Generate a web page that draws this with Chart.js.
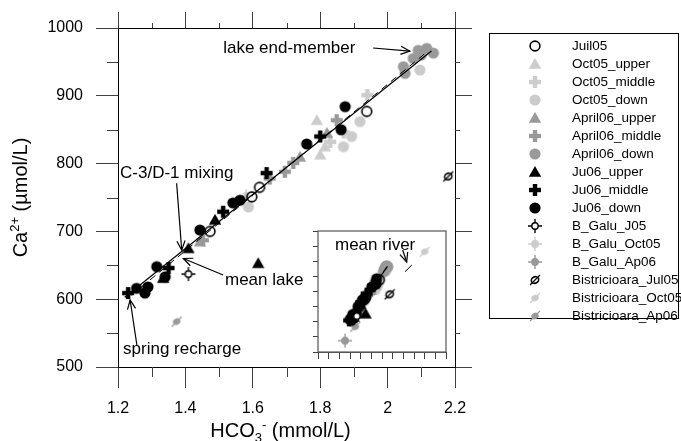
<!DOCTYPE html>
<html>
<head>
<meta charset="utf-8">
<script src="https://cdn.jsdelivr.net/npm/chart.js@4.4.1/dist/chart.umd.min.js"></script>
<style>
  html, body { margin: 0; padding: 0; background: #fff; }
  #wrap { position: relative; width: 681px; height: 441px; }
  #wrap canvas { position: absolute; left: 0; top: 0; }
</style>
</head>
<body>
<div id="wrap">
  <canvas id="mainChart" width="681" height="441"></canvas>
  <canvas id="insetChart" width="681" height="441"></canvas>
</div>
<script>
// sample values: [HCO3 mmol/L, Ca umol/L]
var juil05 = [[1.473, 700], [1.597, 751], [1.62, 765], [1.938, 877]];
var oct05Upper = [[1.79, 864], [1.80, 813], [1.814, 825]];
var oct05Middle = [[1.94, 901], [1.83, 832], [1.87, 846]];
var oct05Down = [[1.893, 840], [1.869, 825], [1.918, 862], [2.096, 938], [1.587, 736]];
var april06Upper = [[1.74, 810], [1.443, 685], [1.82, 845]];
var april06Middle = [[1.72, 801], [1.695, 788], [1.849, 864], [1.452, 687], [1.65, 778]];
var april06Down = [[2.091, 967], [2.116, 970], [2.136, 963], [2.076, 955], [2.047, 943], [2.052, 933], [2.10, 960]];
var ju06Upper = [[1.409, 675], [1.616, 653], [1.488, 717], [1.334, 631]];
var ju06Middle = [[1.23, 609], [1.641, 786], [1.80, 840], [1.512, 729], [1.35, 646]];
var ju06Down = [[1.874, 884], [1.862, 850], [1.76, 829], [1.562, 746], [1.541, 742], [1.443, 702],
                [1.315, 648], [1.255, 616], [1.28, 609], [1.289, 618], [1.34, 633]];
var bGaluJ05 = [[1.409, 637]];
var bGaluOct05 = [[1.58, 752]];
var bGaluAp06 = [[1.133, 475]];
var bistJul05 = [[2.18, 781]];
var bistOct05 = [[3.0, 1063]];
var bistAp06 = [[1.374, 567]];
var mixingLine = [[1.22, 603], [2.13, 966]];
var mixingLine2 = [[1.24, 606], [2.11, 962]];
var meanRiver = [[2.54, 931], [2.70, 975]];

// axes
var xTicksMain = [1.2, 2.2, 0.2];
var yTicksMain = [500, 1000, 100];
var xMinor = [1.3, 1.5, 1.7, 1.9, 2.1];
var yMinor = [550, 650, 750, 850, 950];
var xTicksInset = [0.5, 3.5, 0.25];
var yTicksInset = [400, 1200, 100];

// annotations (data coordinates)
var noteText = ['lake end-member', 'C-3/D-1 mixing', 'mean lake', 'spring recharge'];
var notePos = [[1.512, 970.5], [1.206, 786], [1.5175, 628.3], [1.215, 526.5]];
var arrowFrom = [[1.957, 970.5], [1.374, 771], [1.512, 635.7], [1.256, 532.4]];
var arrowTo = [[2.066, 966], [1.389, 672.6], [1.394, 660], [1.236, 598.8]];
var insetNote = 'mean river';
var insetNotePos = [0.898, 1107];
var insetArrow = [[2.485, 1074], [2.579, 995]];

var FONT = "'Liberation Sans', Arial, sans-serif";
var LIGHT = '#cccccc', GRAY = '#999999', BLACK = '#000000';
Chart.defaults.font.family = FONT;
Chart.defaults.color = '#000';

function makeSymbol(kind, color) {
  var c = document.createElement('canvas');
  c.width = 16; c.height = 16;
  var g = c.getContext('2d');
  g.translate(8, 8);
  g.fillStyle = color; g.strokeStyle = color;
  if (kind === 'circle') {
    g.beginPath(); g.arc(0, 0, 5.6, 0, Math.PI * 2); g.fill();
  } else if (kind === 'open') {
    g.lineWidth = 1.6;
    g.beginPath(); g.arc(0, 0, 4.9, 0, Math.PI * 2); g.stroke();
  } else if (kind === 'triangle') {
    g.beginPath(); g.moveTo(0, -6); g.lineTo(6.2, 4.8); g.lineTo(-6.2, 4.8); g.closePath(); g.fill();
  } else if (kind === 'plus') {
    g.fillRect(-6, -2.2, 12, 4.4); g.fillRect(-2.2, -6, 4.4, 12);
  } else if (kind === 'galu') {
    g.lineWidth = 1.4;
    g.beginPath(); g.moveTo(-7, 0); g.lineTo(7, 0); g.moveTo(0, -7); g.lineTo(0, 7); g.stroke();
    g.fillStyle = color === BLACK ? '#fff' : color;
    g.beginPath(); g.arc(0, 0, 3.2, 0, Math.PI * 2); g.fill(); g.stroke();
  } else if (kind === 'bist') {
    g.lineWidth = 1.6;
    g.beginPath(); g.ellipse(0, 0, 3.8, 3.2, -0.5, 0, Math.PI * 2);
    if (color === BLACK) { g.stroke(); } else { g.fill(); }
    g.lineWidth = 1.3;
    g.beginPath(); g.moveTo(-5, 5); g.lineTo(5, -5); g.stroke();
  }
  return c;
}

var series = [
  { name: 'Juil05', data: juil05, kind: 'open', color: BLACK, order: 1 },
  { name: 'Oct05_upper', data: oct05Upper, kind: 'triangle', color: LIGHT, order: 4 },
  { name: 'Oct05_middle', data: oct05Middle, kind: 'plus', color: LIGHT, order: 4 },
  { name: 'Oct05_down', data: oct05Down, kind: 'circle', color: LIGHT, order: 4 },
  { name: 'April06_upper', data: april06Upper, kind: 'triangle', color: GRAY, order: 3 },
  { name: 'April06_middle', data: april06Middle, kind: 'plus', color: GRAY, order: 3 },
  { name: 'April06_down', data: april06Down, kind: 'circle', color: GRAY, order: 3 },
  { name: 'Ju06_upper', data: ju06Upper, kind: 'triangle', color: BLACK, order: 2 },
  { name: 'Ju06_middle', data: ju06Middle, kind: 'plus', color: BLACK, order: 2 },
  { name: 'Ju06_down', data: ju06Down, kind: 'circle', color: BLACK, order: 2 },
  { name: 'B_Galu_J05', data: bGaluJ05, kind: 'galu', color: BLACK, order: 1 },
  { name: 'B_Galu_Oct05', data: bGaluOct05, kind: 'galu', color: LIGHT, order: 4 },
  { name: 'B_Galu_Ap06', data: bGaluAp06, kind: 'galu', color: GRAY, order: 3 },
  { name: 'Bistricioara_Jul05', data: bistJul05, kind: 'bist', color: BLACK, order: 1 },
  { name: 'Bistricioara_Oct05', data: bistOct05, kind: 'bist', color: LIGHT, order: 4 },
  { name: 'Bistricioara_Ap06', data: bistAp06, kind: 'bist', color: GRAY, order: 3 }
];
series.forEach(function (s) { s.img = makeSymbol(s.kind, s.color); });

function toXY(arr) { return arr.map(function (p) { return { x: p[0], y: p[1] }; }); }

function buildDatasets(withRiver) {
  var ds = [
    { label: 'line', data: toXY(mixingLine), showLine: true, pointRadius: 0, borderColor: '#000', borderWidth: 1.2, order: 0 },
    { label: 'line2', data: toXY(mixingLine2), showLine: true, pointRadius: 0, borderColor: '#000', borderWidth: 1, borderDash: [7, 5], order: 0 }
  ];
  if (withRiver) {
    ds.push({ label: 'river', data: toXY(meanRiver), showLine: true, pointRadius: 0, borderColor: '#000', borderWidth: 1, order: 0 });
  }
  series.forEach(function (s) {
    ds.push({ label: s.name, data: toXY(s.data), pointStyle: s.img, pointRadius: 6,
              backgroundColor: s.color, borderColor: s.color, showLine: false, order: s.order });
  });
  return ds;
}

function seg(ctx, x1, y1, x2, y2) {
  ctx.beginPath(); ctx.moveTo(x1, y1); ctx.lineTo(x2, y2); ctx.stroke();
}

function arrow(ctx, x1, y1, x2, y2) {
  seg(ctx, x1, y1, x2, y2);
  var a = Math.atan2(y2 - y1, x2 - x1), L = 10, w = 0.42;
  ctx.beginPath();
  ctx.moveTo(x2 - L * Math.cos(a - w), y2 - L * Math.sin(a - w));
  ctx.lineTo(x2, y2);
  ctx.lineTo(x2 - L * Math.cos(a + w), y2 - L * Math.sin(a + w));
  ctx.stroke();
}

// minor ticks, annotations, axis titles and legend of the main plot
var mainExtras = {
  id: 'mainExtras',
  beforeDraw: function (chart) {
    var ctx = chart.ctx;
    ctx.save(); ctx.fillStyle = '#fff'; ctx.fillRect(0, 0, chart.width, chart.height); ctx.restore();
  },
  afterDraw: function (chart) {
    var ctx = chart.ctx, a = chart.chartArea;
    var xs = chart.scales.x, ys = chart.scales.y;
    ctx.save();
    ctx.strokeStyle = '#404040'; ctx.lineWidth = 1;
    xMinor.forEach(function (v) {
      var p = Math.round(xs.getPixelForValue(v)) + 0.5;
      seg(ctx, p, a.bottom, p, a.bottom + 10);
      seg(ctx, p, a.top, p, a.top - 5);
    });
    yMinor.forEach(function (v) {
      var p = Math.round(ys.getPixelForValue(v)) + 0.5;
      seg(ctx, a.left, p, a.left - 11, p);
      seg(ctx, a.right, p, a.right + 5, p);
    });

    // annotations
    ctx.fillStyle = '#000'; ctx.strokeStyle = '#000'; ctx.lineWidth = 1.2;
    ctx.font = '17px ' + FONT; ctx.textAlign = 'left'; ctx.textBaseline = 'middle';
    noteText.forEach(function (t, i) {
      ctx.fillText(t, xs.getPixelForValue(notePos[i][0]), ys.getPixelForValue(notePos[i][1]));
      arrow(ctx, xs.getPixelForValue(arrowFrom[i][0]), ys.getPixelForValue(arrowFrom[i][1]),
            xs.getPixelForValue(arrowTo[i][0]), ys.getPixelForValue(arrowTo[i][1]));
    });

    // axis titles with sub/superscripts
    var big = '20px ' + FONT, small = '13px ' + FONT;
    function widthOf(ps) {
      var w = 0;
      ps.forEach(function (p) { ctx.font = p[1]; w += ctx.measureText(p[0]).width; });
      return w;
    }
    function drawParts(ps, cx, cy) {
      var x = cx - widthOf(ps) / 2;
      ctx.textAlign = 'left'; ctx.textBaseline = 'alphabetic';
      ps.forEach(function (p) { ctx.font = p[1]; ctx.fillText(p[0], x, cy + p[2]); x += ctx.measureText(p[0]).width; });
    }
    drawParts([['HCO', big, 0], ['3', small, 5], ['-', small, -8], [' (mmol/L)', big, 0]], (a.left + a.right) / 2 - 6, 437);
    ctx.save();
    ctx.translate(27, (a.top + a.bottom) / 2);
    ctx.rotate(-Math.PI / 2);
    drawParts([['Ca', big, 0], ['2+', small, -8], [' (\u00b5mol/L)', big, 0]], 0, 0);
    ctx.restore();

    // legend
    ctx.strokeStyle = '#000'; ctx.lineWidth = 1;
    ctx.strokeRect(489.5, 33.5, 189, 285);
    ctx.font = '13.5px ' + FONT; ctx.textAlign = 'left'; ctx.textBaseline = 'middle';
    chart.data.datasets.forEach(function (d) {
      var idx = series.findIndex(function (s) { return s.name === d.label; });
      if (idx < 0) return;
      var y = 46 + idx * 18;
      ctx.drawImage(series[idx].img, 535 - 8, y - 8);
      ctx.fillStyle = '#000';
      ctx.fillText(d.label, 572, y);
    });
    ctx.restore();
  }
};

var insetExtras = {
  id: 'insetExtras',
  beforeDatasetsDraw: function (chart) {
    var ctx = chart.ctx, a = chart.chartArea;
    ctx.save(); ctx.fillStyle = '#fff';
    ctx.fillRect(a.left, a.top, a.right - a.left, a.bottom - a.top);
    ctx.restore();
  },
  afterDraw: function (chart) {
    var ctx = chart.ctx, a = chart.chartArea;
    var xs = chart.scales.x, ys = chart.scales.y;
    ctx.save();
    ctx.strokeStyle = '#555'; ctx.lineWidth = 1.2;
    ctx.strokeRect(a.left, a.top, a.right - a.left, a.bottom - a.top);
    ctx.fillStyle = '#000'; ctx.strokeStyle = '#000'; ctx.lineWidth = 1.2;
    ctx.font = '17px ' + FONT; ctx.textAlign = 'left'; ctx.textBaseline = 'middle';
    ctx.fillText(insetNote, xs.getPixelForValue(insetNotePos[0]), ys.getPixelForValue(insetNotePos[1]));
    arrow(ctx, xs.getPixelForValue(insetArrow[0][0]), ys.getPixelForValue(insetArrow[0][1]),
          xs.getPixelForValue(insetArrow[1][0]), ys.getPixelForValue(insetArrow[1][1]));
    ctx.restore();
  }
};

function fmt(v) { return String(Number(v.toFixed(2))); }

new Chart(document.getElementById('mainChart'), {
  type: 'scatter',
  data: { datasets: buildDatasets(false) },
  options: {
    responsive: false, animation: false, events: [],
    layout: { padding: 0 },
    plugins: { legend: { display: false }, tooltip: { enabled: false } },
    scales: {
      x: {
        type: 'linear', position: 'bottom', min: xTicksMain[0], max: xTicksMain[1],
        ticks: { stepSize: xTicksMain[2], padding: 11, font: { size: 16 }, color: '#000', callback: fmt },
        grid: { drawOnChartArea: false, tickLength: 21, color: '#404040' },
        border: { color: '#000', width: 1 },
        afterFit: function (s) { s.height = 74; }
      },
      x2: {
        type: 'linear', position: 'top', min: xTicksMain[0], max: xTicksMain[1],
        ticks: { stepSize: xTicksMain[2], display: false },
        grid: { drawOnChartArea: false, tickLength: 16, color: '#404040' },
        border: { color: '#000', width: 1 },
        afterFit: function (s) { s.height = 28; }
      },
      y: {
        type: 'linear', position: 'left', min: yTicksMain[0], max: yTicksMain[1],
        ticks: { stepSize: yTicksMain[2], padding: 13, font: { size: 16 }, color: '#000', callback: fmt },
        grid: { drawOnChartArea: false, tickLength: 22, color: '#404040' },
        border: { color: '#000', width: 1 },
        afterFit: function (s) { s.width = 118; }
      },
      y2: {
        type: 'linear', position: 'right', min: yTicksMain[0], max: yTicksMain[1],
        ticks: { stepSize: yTicksMain[2], display: false },
        grid: { drawOnChartArea: false, tickLength: 17, color: '#404040' },
        border: { color: '#000', width: 1 },
        afterFit: function (s) { s.width = 226; }
      }
    }
  },
  plugins: [mainExtras]
});

new Chart(document.getElementById('insetChart'), {
  type: 'scatter',
  data: { datasets: buildDatasets(true) },
  options: {
    responsive: false, animation: false, events: [],
    layout: { padding: { top: 231, right: 235 } },
    plugins: { legend: { display: false }, tooltip: { enabled: false } },
    scales: {
      x: {
        type: 'linear', position: 'bottom', min: xTicksInset[0], max: xTicksInset[1],
        ticks: { stepSize: xTicksInset[2], display: false },
        grid: { drawOnChartArea: false, tickLength: 7, color: '#404040' },
        border: { color: '#555', width: 1 },
        afterFit: function (s) { s.height = 89; }
      },
      y: {
        type: 'linear', position: 'left', min: yTicksInset[0], max: yTicksInset[1],
        ticks: { stepSize: yTicksInset[2], display: false },
        grid: { drawOnChartArea: false, tickLength: 5, color: '#404040' },
        border: { color: '#555', width: 1 },
        afterFit: function (s) { s.width = 318; }
      }
    }
  },
  plugins: [insetExtras]
});
</script>
</body>
</html>
